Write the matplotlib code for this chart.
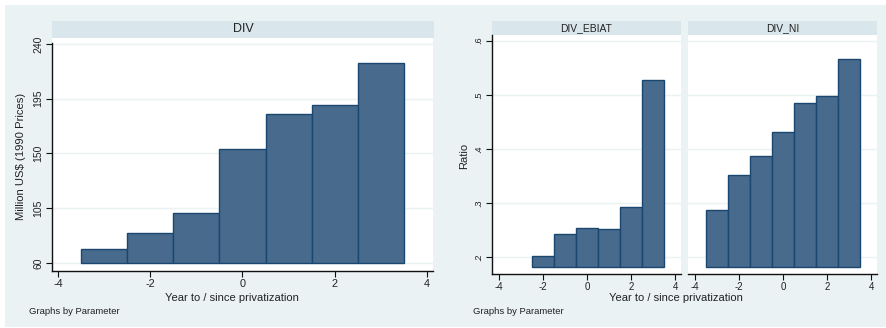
import matplotlib
matplotlib.use("Agg")
import matplotlib.pyplot as plt
from matplotlib.patches import Rectangle

plt.rcParams['font.family'] = ['Liberation Sans', 'DejaVu Sans']

# ---- data ----
years_div = [-3, -2, -1, 0, 1, 2, 3]
div_vals = [71.5, 84.4, 100.8, 153.9, 182.4, 190.1, 224.3]

years_ebiat = [-2, -1, 0, 1, 2, 3]
ebiat_vals = [0.2024, 0.2425, 0.2547, 0.2528, 0.2929, 0.5267]

years_ni = [-3, -2, -1, 0, 1, 2, 3]
ni_vals = [0.2873, 0.3519, 0.3870, 0.4313, 0.4849, 0.4972, 0.5667]

div_yticks = [60, 105, 150, 195, 240]
div_yticklabels = ['60', '105', '150', '195', '240']
ratio_yticks = [0.2, 0.3, 0.4, 0.5, 0.6]
ratio_yticklabels = ['.2', '.3', '.4', '.5', '.6']
xticks = [-4, -2, 0, 2, 4]
xticklabels = ['-4', '-2', '0', '2', '4']

W, H = 887, 328
BG = '#eaf2f3'
STRIP = '#d9e6eb'
FILL = '#476a8d'
EDGE = '#1a476f'
TXT = '#222222'

fig = plt.figure(figsize=(W / 100, H / 100), dpi=100)
fig.patch.set_facecolor('white')


def fx(x):
    return x / W


def fy(y):
    return 1 - y / H


def box(x0, y0, x1, y1):
    return [fx(x0), fy(y1), fx(x1) - fx(x0), fy(y0) - fy(y1)]


# outer background
fig.patches.append(Rectangle((fx(5), fy(327)), fx(886) - fx(5), fy(5) - fy(327),
                             transform=fig.transFigure, facecolor=BG, edgecolor='none', zorder=-2))


def strip(x0, y0, x1, y1, text, size):
    fig.patches.append(Rectangle((fx(x0), fy(y1)), fx(x1) - fx(x0), fy(y0) - fy(y1),
                                 transform=fig.transFigure, facecolor=STRIP, edgecolor='none', zorder=-1))
    fig.text(fx((x0 + x1) / 2), fy((y0 + y1) / 2), text, ha='center', va='center',
             fontsize=size, color=TXT)


def style_ax(ax, show_y=True, xsize=7, ysize=7):
    ax.set_zorder(3)
    ax.set_facecolor('white')
    for s in ['top', 'right']:
        ax.spines[s].set_visible(False)
    ax.spines['bottom'].set_color('#111111')
    ax.spines['bottom'].set_linewidth(1.0)
    if show_y:
        ax.spines['left'].set_color('#111111')
        ax.spines['left'].set_linewidth(1.0)
    else:
        ax.spines['left'].set_visible(False)
    ax.tick_params(axis='both', direction='out', length=4, width=0.8, colors='#111111',
                   labelcolor=TXT, pad=2)
    ax.tick_params(axis='x', labelsize=xsize)
    ax.tick_params(axis='y', labelsize=ysize)
    ax.set_xticks(xticks)
    ax.set_xticklabels(xticklabels)


# ---------- left figure: DIV ----------
ax1 = fig.add_axes(box(52, 38, 433, 271))
ax1.set_xlim(-4.13, 4.13)
ax1.set_ylim(53.4, 244.9)
style_ax(ax1, xsize=7.8, ysize=7.5)
ax1.set_yticks(div_yticks)
ax1.set_yticklabels(div_yticklabels, rotation=90, va='center')
for t in div_yticks:
    ax1.axhline(t, color=BG, lw=1.0, zorder=0)
ax1.bar(years_div, [v - 60 for v in div_vals], bottom=60, width=1.0,
        color=FILL, edgecolor=EDGE, linewidth=1.0, zorder=2)
ax1.spines['left'].set_bounds(53.4, 241)
strip(52, 21, 434, 38, 'DIV', 9)
fig.text(fx(21), fy(156), r'Million US\$ (1990 Prices)', rotation=90, ha='center', va='center',
         fontsize=8.1, color=TXT)
fig.text(fx(232), fy(298), 'Year to / since privatization', ha='center', va='center',
         fontsize=8, color=TXT)
fig.text(fx(29), fy(311), 'Graphs by Parameter', ha='left', va='center', fontsize=6.8, color=TXT)

# ---------- right figure: DIV_EBIAT / DIV_NI ----------
base = 0.1827
ax2 = fig.add_axes(box(492, 35, 681, 274))
ax3 = fig.add_axes(box(688, 35, 877, 274))
for ax, yrs, vals, show_y in [(ax2, years_ebiat, ebiat_vals, True), (ax3, years_ni, ni_vals, False)]:
    ax.set_xlim(-4.30, 4.25)
    ax.set_ylim(0.169, 0.6105)
    style_ax(ax, show_y=show_y, xsize=7, ysize=6.5)
    ax.set_yticks(ratio_yticks)
    for t in ratio_yticks:
        ax.axhline(t, color=BG, lw=1.0, zorder=0)
    ax.bar(yrs, [v - base for v in vals], bottom=base, width=1.0,
           color=FILL, edgecolor=EDGE, linewidth=1.0, zorder=2)
ax2.set_yticklabels(ratio_yticklabels, rotation=90, va='center')
ax3.tick_params(axis='y', left=False, labelleft=False)
strip(492, 21, 681, 35, 'DIV_EBIAT', 7.4)
strip(688, 21, 877, 35, 'DIV_NI', 7.4)
fig.text(fx(464), fy(156), 'Ratio', rotation=90, ha='center', va='center', fontsize=8, color=TXT)
fig.text(fx(676), fy(298), 'Year to / since privatization', ha='center', va='center',
         fontsize=8, color=TXT)
fig.text(fx(473), fy(311), 'Graphs by Parameter', ha='left', va='center', fontsize=6.8, color=TXT)

fig.savefig('out.png', dpi=100, facecolor=fig.get_facecolor())
